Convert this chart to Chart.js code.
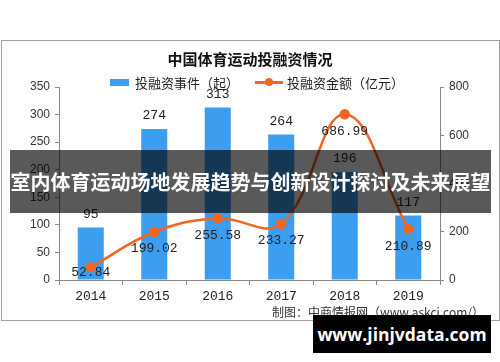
<!DOCTYPE html>
<html>
<head>
<meta charset="utf-8">
<script src="https://cdn.jsdelivr.net/npm/chart.js@4.4.0/dist/chart.umd.min.js"></script>
<style>
    body { margin: 0; background: #fff; font-family: "Noto Sans CJK SC", sans-serif; }
    #wrap { position: relative; width: 500px; height: 362px; overflow: hidden; }
    #chart { position: absolute; left: 0; top: 0; }
    .frame { position: absolute; left: 1px; top: 40px; width: 497px; height: 279px; border: 1px solid #a0a0a0; }
    .titulo { position: absolute; left: 0; width: 500px; top: 48px; text-align: center; font-size: 15px; font-weight: bold; color: #111; }
    .leg { position: absolute; top: 73px; font-size: 13px; color: #222; white-space: nowrap; }
    .sw-bar { position: absolute; left: 110px; top: 79px; width: 19px; height: 7px; background: #3b9ef0; }
    .sw-line { position: absolute; left: 255px; top: 81px; width: 28px; height: 2.5px; background: #f26522; }
    .sw-dot { position: absolute; left: 265px; top: 78px; width: 8px; height: 8px; border-radius: 50%; background: #f26522; }
    .fonte { position: absolute; right: 16px; top: 303px; font-size: 12px; color: #333; white-space: nowrap; }
    .faixa { position: absolute; left: 10px; top: 150px; width: 481px; height: 63px; background: rgba(0,0,0,0.65); }
    .faixa span { position: absolute; left: 0; width: 481px; top: 0; color: #fff; font-size: 20px; font-weight: bold;
                  text-align: center; line-height: 63px; white-space: nowrap; letter-spacing: 0; }
    .marca { position: absolute; left: 313px; top: 315px; width: 178px; height: 38px; background: #000; color: #fff;
             font-family: "Open Sans", sans-serif; font-size: 17.5px; font-weight: bold; text-align: center; line-height: 38px; }
</style>
</head>
<body>
<div id="wrap">
    <div class="frame"></div>
    <canvas id="chart" width="500" height="362"></canvas>
    <div class="titulo">中国体育运动投融资情况</div>
    <div class="sw-bar"></div>
    <div class="leg" style="left:135px">投融资事件（起）</div>
    <div class="sw-line"></div>
    <div class="sw-dot"></div>
    <div class="leg" style="left:287px">投融资金额（亿元）</div>
    <div class="fonte">制图：中商情报网（www.askci.com/）</div>
    <div class="faixa"><span>室内体育运动场地发展趋势与创新设计探讨及未来展望</span></div>
    <div class="marca">www.jinjvdata.com</div>
</div>
<script>
const anos = ['2014', '2015', '2016', '2017', '2018', '2019'];
const eventos = [95, 274, 313, 264, 196, 117];
const valores = [52.84, 199.02, 255.58, 233.27, 686.99, 210.89];
const ticksEsq = [0, 50, 100, 150, 200, 250, 300, 350];
const ticksDir = [0, 200, 400, 600, 800];

// rotulos dos valores (barras em cima, linha embaixo)
const rotulos = {
    id: 'rotulos',
    afterDatasetsDraw(chart) {
        const ctx = chart.ctx;
        const area = chart.chartArea;
        ctx.save();
        ctx.font = '13px "Liberation Mono", monospace';
        ctx.fillStyle = '#222';
        ctx.textAlign = 'center';
        ctx.textBaseline = 'middle';
        chart.getDatasetMeta(0).data.forEach(function (el, i) {
            ctx.fillText(eventos[i], el.x, el.y - 13);
        });
        chart.getDatasetMeta(1).data.forEach(function (el, i) {
            let y = Math.min(el.y + 17, area.bottom - 7);
            ctx.fillText(valores[i].toFixed(2), el.x, y);
        });
        ctx.restore();
    }
};

var ctx = document.getElementById('chart').getContext('2d');
myChart = new Chart(ctx, {
    data: {
        labels: anos,
        datasets: [{
                type: 'bar',
                label: '投融资事件（起）',
                data: eventos,
                backgroundColor: '#3b9ef0',
                barPercentage: 0.41,
                categoryPercentage: 1,
                yAxisID: 'y',
                order: 2
            }, {
                type: 'line',
                label: '投融资金额（亿元）',
                data: valores,
                borderColor: '#f26522',
                backgroundColor: '#f26522',
                borderWidth: 2.5,
                tension: 0.4,
                pointRadius: 4,
                pointHoverRadius: 4,
                yAxisID: 'y1',
                order: 1
            }]
    },
    options: {
        responsive: false,
        animation: false,
        layout: {padding: {left: 0, right: 0, top: 87, bottom: 52}},
        plugins: {legend: {display: false}, tooltip: {enabled: false}},
        scales: {
            x: {
                offset: true,
                grid: {display: true, drawOnChartArea: false, offset: true, tickLength: 5, color: '#888'},
                border: {color: '#888'},
                ticks: {color: '#222', font: {family: '"Liberation Mono", monospace', size: 13}, padding: 4},
                afterFit: function (s) { s.height = 30; }
            },
            y: {
                position: 'left',
                min: 0, max: 350,
                afterBuildTicks: function (s) { s.ticks = ticksEsq.map(v => ({value: v})); },
                grid: {drawOnChartArea: false, tickLength: 4, color: '#888'},
                border: {color: '#888'},
                ticks: {color: '#333', font: {family: '"Liberation Sans", sans-serif', size: 12}, padding: 5},
                afterFit: function (s) { s.width = 59; }
            },
            y1: {
                position: 'right',
                min: 0, max: 800,
                afterBuildTicks: function (s) { s.ticks = ticksDir.map(v => ({value: v})); },
                grid: {drawOnChartArea: false, tickLength: 4, color: '#888'},
                border: {color: '#888'},
                ticks: {color: '#333', font: {family: '"Liberation Sans", sans-serif', size: 12}, padding: 5},
                afterFit: function (s) { s.width = 60; }
            }
        }
    },
    plugins: [rotulos]
});
</script>
</body>
</html>
